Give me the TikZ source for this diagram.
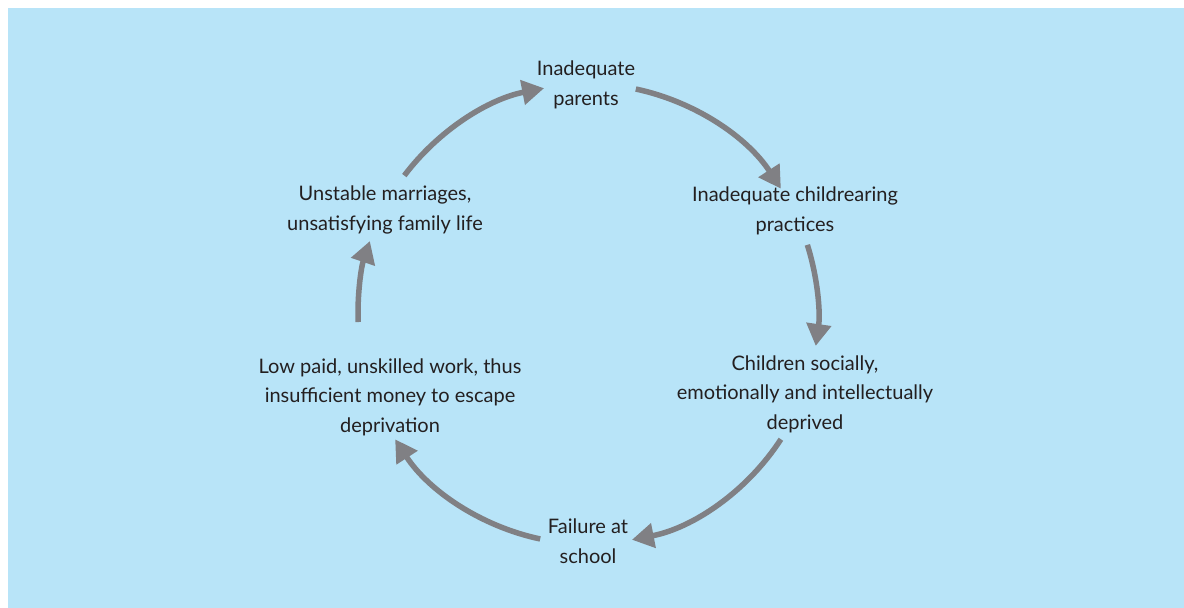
\documentclass[tikz,border=0pt]{standalone}
\usepackage{fontspec}
\setmainfont{Lato}
\usetikzlibrary{arrows.meta,calc}
\definecolor{bgblue}{RGB}{184,228,248}
\definecolor{arrowgrey}{RGB}{128,128,132}
\definecolor{textdark}{RGB}{35,31,32}
\begin{document}
\begin{tikzpicture}[x=1pt,y=1pt,
  stage/.style={align=center,text=textdark,font=\fontsize{20}{29.5}\selectfont,inner sep=0pt},
  cyclearrow/.style={draw=arrowgrey,line width=5.5pt,
    -{Triangle[length=22pt,width=24pt]}}]
  % page and background panel
  \useasboundingbox (0,0) rectangle (1184,608);
  \fill[white] (0,0) rectangle (1184,608);
  \fill[bgblue] (8,0) rectangle (1184,600);
  % centre of the cycle
  \coordinate (c) at (588,294);
  % stages of the cycle
  \node[stage] (parents) at (586,523) {Inadequate\\parents};
  \node[stage] (childrearing) at (795,397) {Inadequate childrearing\\practices};
  \node[stage] (deprived) at (805,214) {Children socially,\\emotionally and intellectually\\deprived};
  \node[stage] (failure) at (588,67) {Failure at\\school};
  \node[stage] (lowpaid) at (390,211) {Low paid, unskilled work, thus\\insufficient money to escape\\deprivation};
  \node[stage] (unstable) at (385,398) {Unstable marriages,\\unsatisfying family life};
  % arc start points
  \coordinate (s1) at ($(c)+(143:230)$);
  \coordinate (s2) at ($(c)+(78:230)$);
  \coordinate (s3) at ($(c)+(17.5:230)$);
  \coordinate (s4) at ($(c)+(-33:230)$);
  \coordinate (s5) at ($(c)+(-102:230)$);
  \coordinate (s6) at ($(c)+(182:230)$);
  % connecting arcs
  \draw[cyclearrow] (s1) arc[start angle=143,end angle=101,radius=230];
  \draw[cyclearrow] (s2) arc[start angle=78,end angle=33,radius=230];
  \draw[cyclearrow] (s3) arc[start angle=17.5,end angle=-8,radius=230];
  \draw[cyclearrow] (s4) arc[start angle=-33,end angle=-79,radius=230];
  \draw[cyclearrow] (s5) arc[start angle=-102,end angle=-147,radius=230];
  \draw[cyclearrow] (s6) arc[start angle=182,end angle=161.5,radius=230];
\end{tikzpicture}
\end{document}
